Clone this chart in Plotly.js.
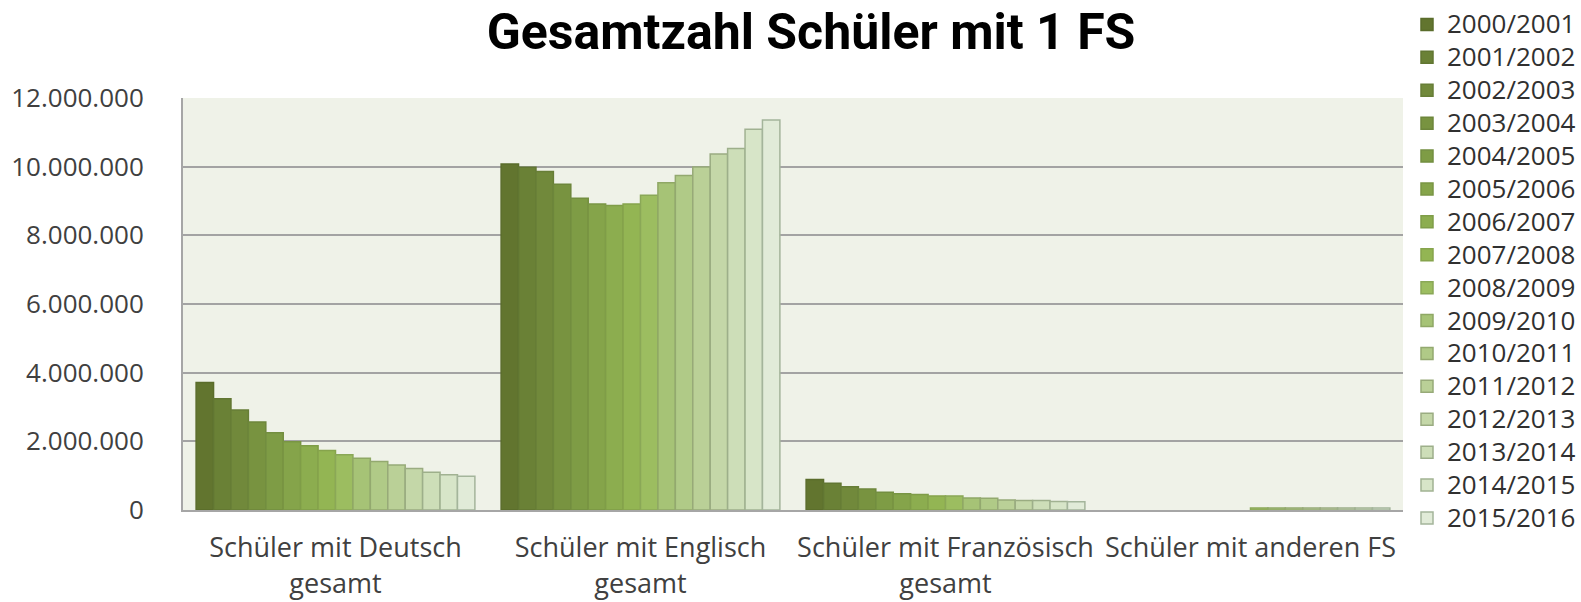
<!DOCTYPE html>
<html>
<head>
<meta charset="utf-8">
<script src="https://cdn.plot.ly/plotly-3.0.1.min.js"></script>
<style>
html,body{margin:0;padding:0;background:#fff;}
#chart{width:1581px;height:602px;}
.legendtext{font-size:26px !important;}
</style>
</head>
<body>
<div id="chart"></div>
<script>
const categories = ["Schüler mit Deutsch<br>gesamt", "Schüler mit Englisch<br>gesamt", "Schüler mit Französisch<br>gesamt", "Schüler mit anderen FS"];
const years = ["2000/2001","2001/2002","2002/2003","2003/2004","2004/2005","2005/2006","2006/2007","2007/2008","2008/2009","2009/2010","2010/2011","2011/2012","2012/2013","2013/2014","2014/2015","2015/2016"];
const deutsch  = [3710000, 3240000, 2910000, 2560000, 2250000, 1990000, 1870000, 1730000, 1610000, 1510000, 1410000, 1310000, 1210000, 1100000, 1030000, 980000];
const englisch = [10080000, 9980000, 9860000, 9490000, 9080000, 8910000, 8870000, 8910000, 9170000, 9530000, 9740000, 9990000, 10370000, 10530000, 11090000, 11360000];
const franz    = [890000, 780000, 680000, 610000, 520000, 470000, 450000, 410000, 410000, 350000, 340000, 290000, 280000, 280000, 250000, 240000];
const andere   = [null, null, null, null, null, null, null, null, 55000, 55000, 55000, 55000, 55000, 55000, 55000, 55000];
const fills = ["#62752f","#6a8136","#71893b","#789340","#7e9c45","#85a44a","#8cad4f","#93b553","#9cbd60","#a6c376","#b0ca87","#bad097","#c4d7a8","#cddeb8","#d7e5c8","#e1ebd8"];
const edges = ["#5a6c2b","#617632","#677e37","#6d863b","#738e40","#799544","#7f9d48","#86a44c","#8aa857","#8fa865","#93a96f","#97aa78","#9aac81","#9daf8a","#a1b292","#a4b59b"];

const traces = years.map((yr, i) => ({
  type: 'bar',
  name: yr,
  x: categories,
  y: [deutsch[i], englisch[i], franz[i], andere[i]],
  marker: {color: fills[i], line: {color: edges[i], width: 1.5}},
  hoverinfo: 'x+y+name'
}));

const layout = {
  width: 1581, height: 602,
  paper_bgcolor: '#ffffff',
  plot_bgcolor: '#eff2e8',
  separators: ',.',
  margin: {l: 183, r: 178, t: 98, b: 92},
  barmode: 'group',
  bargap: 0.086,
  bargroupgap: 0,
  title: {
    text: 'Gesamtzahl Schüler mit 1 FS',
    font: {family: 'Roboto, sans-serif', size: 50, weight: 'bold', color: '#000'},
    x: 0.513, xref: 'container', xanchor: 'center',
    y: 0.947, yref: 'container', yanchor: 'middle'
  },
  xaxis: {
    type: 'category',
    showgrid: false,
    showline: true, linecolor: '#a6a6a6', linewidth: 2,
    ticks: '',
    ticklabelstandoff: 13,
    tickfont: {family: 'Open Sans', size: 27, color: '#404040'}
  },
  yaxis: {
    range: [0, 12000000],
    tickvals: [0, 2000000, 4000000, 6000000, 8000000, 10000000, 12000000],
    tickformat: ',d',
    showgrid: true, gridcolor: '#a3a3a3', gridwidth: 2,
    showline: true, linecolor: '#a6a6a6', linewidth: 2,
    zeroline: false,
    ticks: '',
    ticklabelstandoff: 32,
    tickfont: {family: 'Open Sans', size: 26, color: '#404040'}
  },
  legend: {
    x: 1407/1581, xref: 'container', xanchor: 'left',
    y: 0.995, yref: 'container', yanchor: 'top',
    maxheight: 600,
    font: {family: 'Open Sans', size: 23, color: '#303030'},
    bgcolor: 'rgba(0,0,0,0)',
    traceorder: 'normal'
  },
  showlegend: true
};

Plotly.newPlot('chart', traces, layout, {displayModeBar: false, staticPlot: true});
</script>
</body>
</html>
